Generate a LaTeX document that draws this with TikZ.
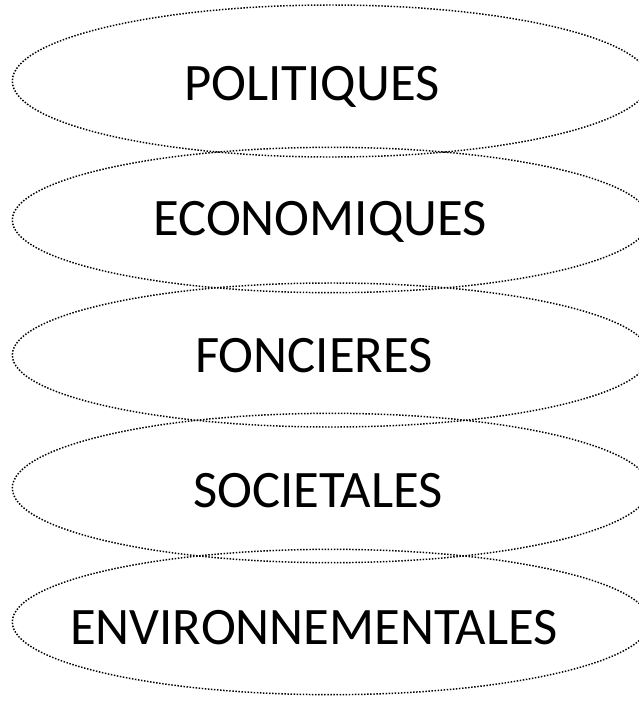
\documentclass[tikz,border=0pt]{standalone}
\usepackage{fontspec}
\setmainfont{Carlito}
\usetikzlibrary{shapes.geometric}
\begin{document}
\begin{tikzpicture}[x=0.75pt,y=-0.75pt,
  oval/.style={ellipse,draw=black,line width=1.1pt,dash pattern=on 1.1pt off 1.2pt,inner sep=0pt,minimum width=478pt,minimum height=#1},
  lbl/.style={font=\fontsize{39.5pt}{42pt}\selectfont,inner sep=0pt,text height=25.5pt,text depth=0pt,anchor=center}]
\fill[white] (0,0) rectangle (639,701);
\useasboundingbox (0,0) rectangle (639,701);
\clip (0,0) rectangle (639,701);
\node[oval=114pt] (e1) at (331,81) {};
\node[oval=109pt] (e2) at (331,220) {};
\node[oval=108pt] (e3) at (331,355) {};
\node[oval=112pt] (e4) at (331,488) {};
\node[oval=109pt] (e5) at (331,622) {};
\node[lbl] (t1) at (312,83) {POLITIQUES};
\node[lbl] (t2) at (320,218) {ECONOMIQUES};
\node[lbl] (t3) at (314,355) {FONCIERES};
\node[lbl] (t4) at (318,490) {SOCIETALES};
\node[lbl] (t5) at (314,627) {ENVIRONNEMENTALES};
\end{tikzpicture}
\end{document}
